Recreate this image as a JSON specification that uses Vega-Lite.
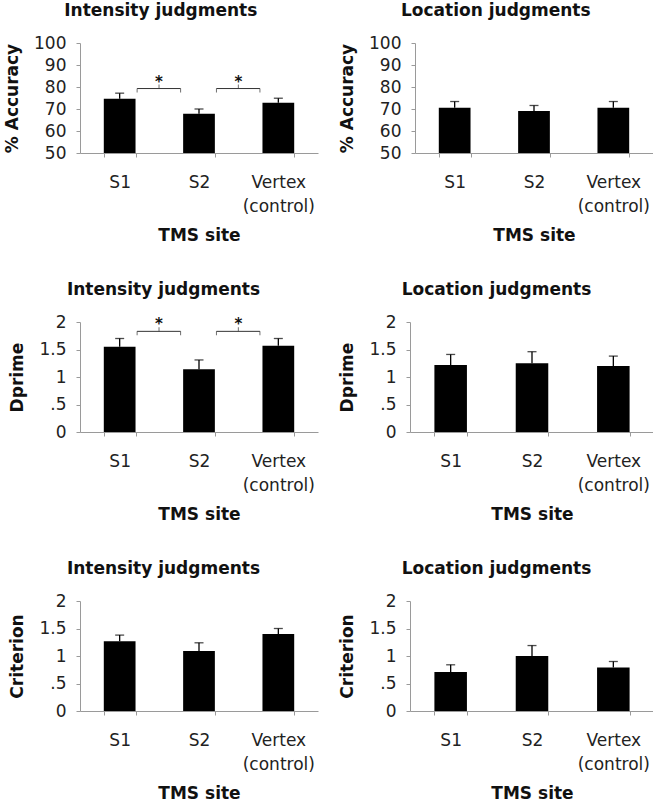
{
  "$schema": "https://vega.github.io/schema/vega-lite/v6.json",
  "padding": {"left": 3, "top": 2, "right": 1, "bottom": 0},
  "background": "white",
  "config": {
    "font": "DejaVu Sans",
    "view": {"stroke": null},
    "axis": {"domainColor": "#9a9a9a", "tickColor": "#9a9a9a", "tickSize": 4, "labelColor": "#222222", "labelFontSize": 17, "titleFontSize": 17, "titleFontWeight": "bold", "titleColor": "#111111", "grid": false, "labelFont": "DejaVu Sans", "titleFont": "DejaVu Sans"},
    "axisX": {"labelAngle": 0, "tickBand": "extent", "labelPadding": 17, "titlePadding": 13, "labelLineHeight": 24},
    "axisY": {"titlePadding": 12, "labelPadding": 10},
    "axisQuantitative": {"labelOverlap": false},
    "title": {"fontSize": 17, "fontWeight": "bold", "frame": "bounds", "anchor": "middle", "offset": 14, "color": "#111111", "font": "DejaVu Sans"}
  },
  "datasets": {
    "acc_int": [{"site": "S1", "mean": 74.7, "upper": 77.2}, {"site": "S2", "mean": 67.8, "upper": 70.0}, {"site": "Vertex (control)", "mean": 72.8, "upper": 74.9}],
    "acc_loc": [{"site": "S1", "mean": 70.6, "upper": 73.4}, {"site": "S2", "mean": 69.1, "upper": 71.6}, {"site": "Vertex (control)", "mean": 70.6, "upper": 73.4}],
    "dp_int": [{"site": "S1", "mean": 1.55, "upper": 1.70}, {"site": "S2", "mean": 1.14, "upper": 1.31}, {"site": "Vertex (control)", "mean": 1.57, "upper": 1.70}],
    "dp_loc": [{"site": "S1", "mean": 1.22, "upper": 1.41}, {"site": "S2", "mean": 1.25, "upper": 1.46}, {"site": "Vertex (control)", "mean": 1.20, "upper": 1.38}],
    "cr_int": [{"site": "S1", "mean": 1.27, "upper": 1.38}, {"site": "S2", "mean": 1.09, "upper": 1.24}, {"site": "Vertex (control)", "mean": 1.40, "upper": 1.50}],
    "cr_loc": [{"site": "S1", "mean": 0.71, "upper": 0.84}, {"site": "S2", "mean": 1.00, "upper": 1.19}, {"site": "Vertex (control)", "mean": 0.79, "upper": 0.90}],
    "br_acc": [{"from": "S1", "to": "S2", "level": 79.3}, {"from": "S2", "to": "Vertex (control)", "level": 79.3}],
    "br_dp": [{"from": "S1", "to": "S2", "level": 1.83}, {"from": "S2", "to": "Vertex (control)", "level": 1.83}]
  },
  "concat": [
    {
      "spacing": 20,
      "hconcat": [
        {
          "width": 238, "height": 110,
          "title": "Intensity judgments",
          "layer": [
            {"data": {"name": "acc_int"}, "mark": {"type": "bar", "color": "black", "clip": true},
             "encoding": {
               "x": {"field": "site", "type": "nominal", "title": "TMS site", "scale": {"domain": ["S1", "S2", "Vertex (control)"], "paddingInner": 0.6, "paddingOuter": 0.3}, "axis": {"labelExpr": "datum.value == 'Vertex (control)' ? ['Vertex', '(control)'] : datum.label"}},
               "y": {"field": "mean", "type": "quantitative", "title": "% Accuracy", "scale": {"domain": [50, 100], "nice": false, "zero": false}, "axis": {"values": [50, 60, 70, 80, 90, 100], "labelOverlap": false}}}},
            {"data": {"name": "acc_int"}, "mark": {"type": "rule", "color": "black", "strokeWidth": 1.3},
             "encoding": {"x": {"field": "site", "type": "nominal", "title": "TMS site"}, "y": {"field": "mean", "type": "quantitative", "title": "% Accuracy", "axis": {"values": [50, 60, 70, 80, 90, 100], "labelOverlap": false}}, "y2": {"field": "upper"}}},
            {"data": {"name": "acc_int"}, "mark": {"type": "tick", "color": "black", "thickness": 1.3, "size": 9, "orient": "horizontal"},
             "encoding": {"x": {"field": "site", "type": "nominal", "title": "TMS site"}, "y": {"field": "upper", "type": "quantitative", "title": "% Accuracy", "axis": {"values": [50, 60, 70, 80, 90, 100], "labelOverlap": false}}}},
            {"data": {"name": "br_acc"}, "mark": {"type": "rule", "color": "#333333", "strokeWidth": 1},
             "encoding": {"x": {"field": "from", "type": "nominal", "title": "TMS site", "bandPosition": 1.05}, "x2": {"field": "to", "bandPosition": -0.08}, "y": {"field": "level", "type": "quantitative", "title": "% Accuracy", "axis": {"values": [50, 60, 70, 80, 90, 100], "labelOverlap": false}}}},
            {"data": {"name": "br_acc"}, "mark": {"type": "tick", "color": "#333333", "thickness": 1, "size": 4, "orient": "vertical", "yOffset": 2},
             "encoding": {"x": {"field": "from", "type": "nominal", "title": "TMS site", "bandPosition": 1.05}, "y": {"field": "level", "type": "quantitative", "title": "% Accuracy", "axis": {"values": [50, 60, 70, 80, 90, 100], "labelOverlap": false}}}},
            {"data": {"name": "br_acc"}, "mark": {"type": "tick", "color": "#333333", "thickness": 1, "size": 4, "orient": "vertical", "yOffset": 2},
             "encoding": {"x": {"field": "to", "type": "nominal", "title": "TMS site", "bandPosition": -0.08}, "y": {"field": "level", "type": "quantitative", "title": "% Accuracy", "axis": {"values": [50, 60, 70, 80, 90, 100], "labelOverlap": false}}}},
            {"data": {"name": "br_acc"}, "mark": {"type": "tick", "color": "#333333", "thickness": 1, "size": 4, "orient": "vertical", "yOffset": -2},
             "encoding": {"x": {"field": "from", "type": "nominal", "title": "TMS site", "bandPosition": 1.74}, "y": {"field": "level", "type": "quantitative", "title": "% Accuracy", "axis": {"values": [50, 60, 70, 80, 90, 100], "labelOverlap": false}}}},
            {"data": {"name": "br_acc"}, "mark": {"type": "text", "text": "*", "fontSize": 15, "fontWeight": "bold", "baseline": "alphabetic", "dy": -2, "color": "#111111"},
             "encoding": {"x": {"field": "from", "type": "nominal", "title": "TMS site", "bandPosition": 1.74}, "y": {"field": "level", "type": "quantitative", "title": "% Accuracy", "axis": {"values": [50, 60, 70, 80, 90, 100], "labelOverlap": false}}}}
          ]
        },
        {
          "width": 238, "height": 110,
          "title": "Location judgments",
          "layer": [
            {"data": {"name": "acc_loc"}, "mark": {"type": "bar", "color": "black", "clip": true},
             "encoding": {
               "x": {"field": "site", "type": "nominal", "title": "TMS site", "scale": {"domain": ["S1", "S2", "Vertex (control)"], "paddingInner": 0.6, "paddingOuter": 0.3}, "axis": {"labelExpr": "datum.value == 'Vertex (control)' ? ['Vertex', '(control)'] : datum.label"}},
               "y": {"field": "mean", "type": "quantitative", "title": "% Accuracy", "scale": {"domain": [50, 100], "nice": false, "zero": false}, "axis": {"values": [50, 60, 70, 80, 90, 100], "labelOverlap": false}}}},
            {"data": {"name": "acc_loc"}, "mark": {"type": "rule", "color": "black", "strokeWidth": 1.3},
             "encoding": {"x": {"field": "site", "type": "nominal", "title": "TMS site"}, "y": {"field": "mean", "type": "quantitative", "title": "% Accuracy", "axis": {"values": [50, 60, 70, 80, 90, 100], "labelOverlap": false}}, "y2": {"field": "upper"}}},
            {"data": {"name": "acc_loc"}, "mark": {"type": "tick", "color": "black", "thickness": 1.3, "size": 9, "orient": "horizontal"},
             "encoding": {"x": {"field": "site", "type": "nominal", "title": "TMS site"}, "y": {"field": "upper", "type": "quantitative", "title": "% Accuracy", "axis": {"values": [50, 60, 70, 80, 90, 100], "labelOverlap": false}}}}
          ]
        }
      ]
    },
    {
      "spacing": 20,
      "hconcat": [
        {
          "width": 238, "height": 110,
          "title": "Intensity judgments",
          "layer": [
            {"data": {"name": "dp_int"}, "mark": {"type": "bar", "color": "black"},
             "encoding": {
               "x": {"field": "site", "type": "nominal", "title": "TMS site", "scale": {"domain": ["S1", "S2", "Vertex (control)"], "paddingInner": 0.6, "paddingOuter": 0.3}, "axis": {"labelExpr": "datum.value == 'Vertex (control)' ? ['Vertex', '(control)'] : datum.label"}},
               "y": {"field": "mean", "type": "quantitative", "title": "Dprime", "scale": {"domain": [0, 2], "nice": false}, "axis": {"values": [0, 0.5, 1, 1.5, 2], "labelOverlap": false, "labelExpr": "datum.value == 0.5 ? '.5' : format(datum.value, '~g')"}}}},
            {"data": {"name": "dp_int"}, "mark": {"type": "rule", "color": "black", "strokeWidth": 1.3},
             "encoding": {"x": {"field": "site", "type": "nominal", "title": "TMS site"}, "y": {"field": "mean", "type": "quantitative", "title": "Dprime", "axis": {"values": [0, 0.5, 1, 1.5, 2], "labelOverlap": false, "labelExpr": "datum.value == 0.5 ? '.5' : format(datum.value, '~g')"}}, "y2": {"field": "upper"}}},
            {"data": {"name": "dp_int"}, "mark": {"type": "tick", "color": "black", "thickness": 1.3, "size": 9, "orient": "horizontal"},
             "encoding": {"x": {"field": "site", "type": "nominal", "title": "TMS site"}, "y": {"field": "upper", "type": "quantitative", "title": "Dprime", "axis": {"values": [0, 0.5, 1, 1.5, 2], "labelOverlap": false, "labelExpr": "datum.value == 0.5 ? '.5' : format(datum.value, '~g')"}}}},
            {"data": {"name": "br_dp"}, "mark": {"type": "rule", "color": "#333333", "strokeWidth": 1},
             "encoding": {"x": {"field": "from", "type": "nominal", "title": "TMS site", "bandPosition": 1.05}, "x2": {"field": "to", "bandPosition": -0.08}, "y": {"field": "level", "type": "quantitative", "title": "Dprime", "axis": {"values": [0, 0.5, 1, 1.5, 2], "labelOverlap": false, "labelExpr": "datum.value == 0.5 ? '.5' : format(datum.value, '~g')"}}}},
            {"data": {"name": "br_dp"}, "mark": {"type": "tick", "color": "#333333", "thickness": 1, "size": 4, "orient": "vertical", "yOffset": 2},
             "encoding": {"x": {"field": "from", "type": "nominal", "title": "TMS site", "bandPosition": 1.05}, "y": {"field": "level", "type": "quantitative", "title": "Dprime", "axis": {"values": [0, 0.5, 1, 1.5, 2], "labelOverlap": false, "labelExpr": "datum.value == 0.5 ? '.5' : format(datum.value, '~g')"}}}},
            {"data": {"name": "br_dp"}, "mark": {"type": "tick", "color": "#333333", "thickness": 1, "size": 4, "orient": "vertical", "yOffset": 2},
             "encoding": {"x": {"field": "to", "type": "nominal", "title": "TMS site", "bandPosition": -0.08}, "y": {"field": "level", "type": "quantitative", "title": "Dprime", "axis": {"values": [0, 0.5, 1, 1.5, 2], "labelOverlap": false, "labelExpr": "datum.value == 0.5 ? '.5' : format(datum.value, '~g')"}}}},
            {"data": {"name": "br_dp"}, "mark": {"type": "tick", "color": "#333333", "thickness": 1, "size": 4, "orient": "vertical", "yOffset": -2},
             "encoding": {"x": {"field": "from", "type": "nominal", "title": "TMS site", "bandPosition": 1.74}, "y": {"field": "level", "type": "quantitative", "title": "Dprime", "axis": {"values": [0, 0.5, 1, 1.5, 2], "labelOverlap": false, "labelExpr": "datum.value == 0.5 ? '.5' : format(datum.value, '~g')"}}}},
            {"data": {"name": "br_dp"}, "mark": {"type": "text", "text": "*", "fontSize": 15, "fontWeight": "bold", "baseline": "alphabetic", "dy": -2, "color": "#111111"},
             "encoding": {"x": {"field": "from", "type": "nominal", "title": "TMS site", "bandPosition": 1.74}, "y": {"field": "level", "type": "quantitative", "title": "Dprime", "axis": {"values": [0, 0.5, 1, 1.5, 2], "labelOverlap": false, "labelExpr": "datum.value == 0.5 ? '.5' : format(datum.value, '~g')"}}}}
          ]
        },
        {
          "width": 244, "height": 110,
          "title": "Location judgments",
          "layer": [
            {"data": {"name": "dp_loc"}, "mark": {"type": "bar", "color": "black"},
             "encoding": {
               "x": {"field": "site", "type": "nominal", "title": "TMS site", "scale": {"domain": ["S1", "S2", "Vertex (control)"], "paddingInner": 0.6, "paddingOuter": 0.3}, "axis": {"labelExpr": "datum.value == 'Vertex (control)' ? ['Vertex', '(control)'] : datum.label"}},
               "y": {"field": "mean", "type": "quantitative", "title": "Dprime", "scale": {"domain": [0, 2], "nice": false}, "axis": {"values": [0, 0.5, 1, 1.5, 2], "labelOverlap": false, "labelExpr": "datum.value == 0.5 ? '.5' : format(datum.value, '~g')"}}}},
            {"data": {"name": "dp_loc"}, "mark": {"type": "rule", "color": "black", "strokeWidth": 1.3},
             "encoding": {"x": {"field": "site", "type": "nominal", "title": "TMS site"}, "y": {"field": "mean", "type": "quantitative", "title": "Dprime", "axis": {"values": [0, 0.5, 1, 1.5, 2], "labelOverlap": false, "labelExpr": "datum.value == 0.5 ? '.5' : format(datum.value, '~g')"}}, "y2": {"field": "upper"}}},
            {"data": {"name": "dp_loc"}, "mark": {"type": "tick", "color": "black", "thickness": 1.3, "size": 9, "orient": "horizontal"},
             "encoding": {"x": {"field": "site", "type": "nominal", "title": "TMS site"}, "y": {"field": "upper", "type": "quantitative", "title": "Dprime", "axis": {"values": [0, 0.5, 1, 1.5, 2], "labelOverlap": false, "labelExpr": "datum.value == 0.5 ? '.5' : format(datum.value, '~g')"}}}}
          ]
        }
      ]
    },
    {
      "spacing": 20,
      "hconcat": [
        {
          "width": 238, "height": 110,
          "title": "Intensity judgments",
          "layer": [
            {"data": {"name": "cr_int"}, "mark": {"type": "bar", "color": "black"},
             "encoding": {
               "x": {"field": "site", "type": "nominal", "title": "TMS site", "scale": {"domain": ["S1", "S2", "Vertex (control)"], "paddingInner": 0.6, "paddingOuter": 0.3}, "axis": {"labelExpr": "datum.value == 'Vertex (control)' ? ['Vertex', '(control)'] : datum.label"}},
               "y": {"field": "mean", "type": "quantitative", "title": "Criterion", "scale": {"domain": [0, 2], "nice": false}, "axis": {"values": [0, 0.5, 1, 1.5, 2], "labelOverlap": false, "labelExpr": "datum.value == 0.5 ? '.5' : format(datum.value, '~g')"}}}},
            {"data": {"name": "cr_int"}, "mark": {"type": "rule", "color": "black", "strokeWidth": 1.3},
             "encoding": {"x": {"field": "site", "type": "nominal", "title": "TMS site"}, "y": {"field": "mean", "type": "quantitative", "title": "Criterion", "axis": {"values": [0, 0.5, 1, 1.5, 2], "labelOverlap": false, "labelExpr": "datum.value == 0.5 ? '.5' : format(datum.value, '~g')"}}, "y2": {"field": "upper"}}},
            {"data": {"name": "cr_int"}, "mark": {"type": "tick", "color": "black", "thickness": 1.3, "size": 9, "orient": "horizontal"},
             "encoding": {"x": {"field": "site", "type": "nominal", "title": "TMS site"}, "y": {"field": "upper", "type": "quantitative", "title": "Criterion", "axis": {"values": [0, 0.5, 1, 1.5, 2], "labelOverlap": false, "labelExpr": "datum.value == 0.5 ? '.5' : format(datum.value, '~g')"}}}}
          ]
        },
        {
          "width": 244, "height": 110,
          "title": "Location judgments",
          "layer": [
            {"data": {"name": "cr_loc"}, "mark": {"type": "bar", "color": "black"},
             "encoding": {
               "x": {"field": "site", "type": "nominal", "title": "TMS site", "scale": {"domain": ["S1", "S2", "Vertex (control)"], "paddingInner": 0.6, "paddingOuter": 0.3}, "axis": {"labelExpr": "datum.value == 'Vertex (control)' ? ['Vertex', '(control)'] : datum.label"}},
               "y": {"field": "mean", "type": "quantitative", "title": "Criterion", "scale": {"domain": [0, 2], "nice": false}, "axis": {"values": [0, 0.5, 1, 1.5, 2], "labelOverlap": false, "labelExpr": "datum.value == 0.5 ? '.5' : format(datum.value, '~g')"}}}},
            {"data": {"name": "cr_loc"}, "mark": {"type": "rule", "color": "black", "strokeWidth": 1.3},
             "encoding": {"x": {"field": "site", "type": "nominal", "title": "TMS site"}, "y": {"field": "mean", "type": "quantitative", "title": "Criterion", "axis": {"values": [0, 0.5, 1, 1.5, 2], "labelOverlap": false, "labelExpr": "datum.value == 0.5 ? '.5' : format(datum.value, '~g')"}}, "y2": {"field": "upper"}}},
            {"data": {"name": "cr_loc"}, "mark": {"type": "tick", "color": "black", "thickness": 1.3, "size": 9, "orient": "horizontal"},
             "encoding": {"x": {"field": "site", "type": "nominal", "title": "TMS site"}, "y": {"field": "upper", "type": "quantitative", "title": "Criterion", "axis": {"values": [0, 0.5, 1, 1.5, 2], "labelOverlap": false, "labelExpr": "datum.value == 0.5 ? '.5' : format(datum.value, '~g')"}}}}
          ]
        }
      ]
    }
  ],
  "columns": 1,
  "align": "none",
  "spacing": 38
}
